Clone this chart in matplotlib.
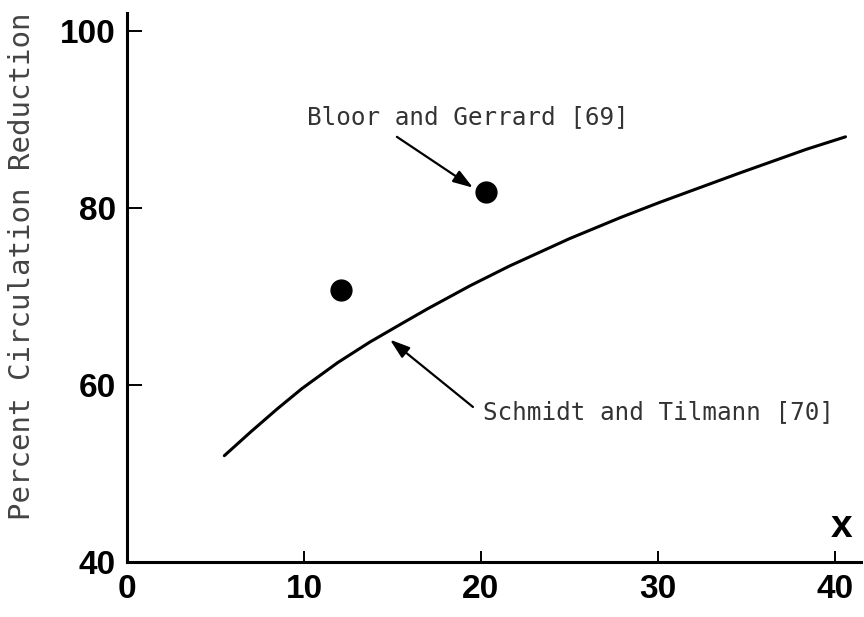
import matplotlib
matplotlib.use("Agg")
import matplotlib.pyplot as plt

# Data
curve_x = [5.5, 7.0, 8.5, 9.9, 11.9, 13.7, 15.6, 17.0, 19.4, 21.6, 25.0, 27.9, 30.1, 34.6, 38.4, 40.6]
curve_y = [52.0, 54.7, 57.3, 59.6, 62.5, 64.8, 67.0, 68.6, 71.2, 73.4, 76.5, 78.9, 80.6, 83.9, 86.6, 88.0]
points_x = [12.1, 20.3]
points_y = [70.7, 81.8]
xticks = [0, 10, 20, 30, 40]
yticks = [40, 60, 80, 100]
ylabel = "Percent Circulation Reduction"
label_bloor = "Bloor and Gerrard [69]"
label_schmidt = "Schmidt and Tilmann [70]"

fig = plt.figure(figsize=(8.64, 6.17), dpi=100)
ax = fig.add_axes([0.147, 0.0892, 0.850, 0.890])

ax.plot(curve_x, curve_y, color="black", lw=2.2, solid_capstyle="round",
        solid_joinstyle="round")
ax.plot(points_x, points_y, "o", color="black", markersize=15)

ax.set_xlim(0, 41.5)
ax.set_ylim(40, 102)
ax.set_xticks(xticks)
ax.set_yticks(yticks)
for s in ("top", "right"):
    ax.spines[s].set_visible(False)
for s in ("left", "bottom"):
    ax.spines[s].set_linewidth(2.2)

ax.tick_params(axis="both", direction="in", length=11, width=1.4, labelsize=24)
ax.tick_params(axis="x", pad=9, length=8)
ax.tick_params(axis="y", pad=8)
for lab in ax.get_xticklabels() + ax.get_yticklabels():
    lab.set_fontweight("bold")
    lab.set_fontfamily("Liberation Sans")

mono = "DejaVu Sans Mono"
fig.text(22 / 864, 1 - 266 / 617, ylabel, rotation=90, ha="center", va="center",
         fontsize=21, family=mono, color="#444444")

ax.text(10.17, 90.2, label_bloor, fontsize=17.5, family=mono, color="#333333",
        ha="left", va="center")
ax.text(20.11, 56.95, label_schmidt, fontsize=17.5, family=mono, color="#333333",
        ha="left", va="center")

arrow = dict(arrowstyle="-|>,head_length=0.6,head_width=0.2", lw=1.6, color="black",
             shrinkA=0, shrinkB=0, mutation_scale=20)
ax.annotate("", xy=(19.55, 82.26), xytext=(15.25, 88.0), arrowprops=arrow)
ax.annotate("", xy=(14.86, 65.1), xytext=(19.55, 57.5), arrowprops=arrow)

ax.text(40.4, 44.0, "x", fontsize=28, fontweight="bold", family="Liberation Sans",
        ha="center", va="center")

fig.savefig("out.png", dpi=100, facecolor="white")
